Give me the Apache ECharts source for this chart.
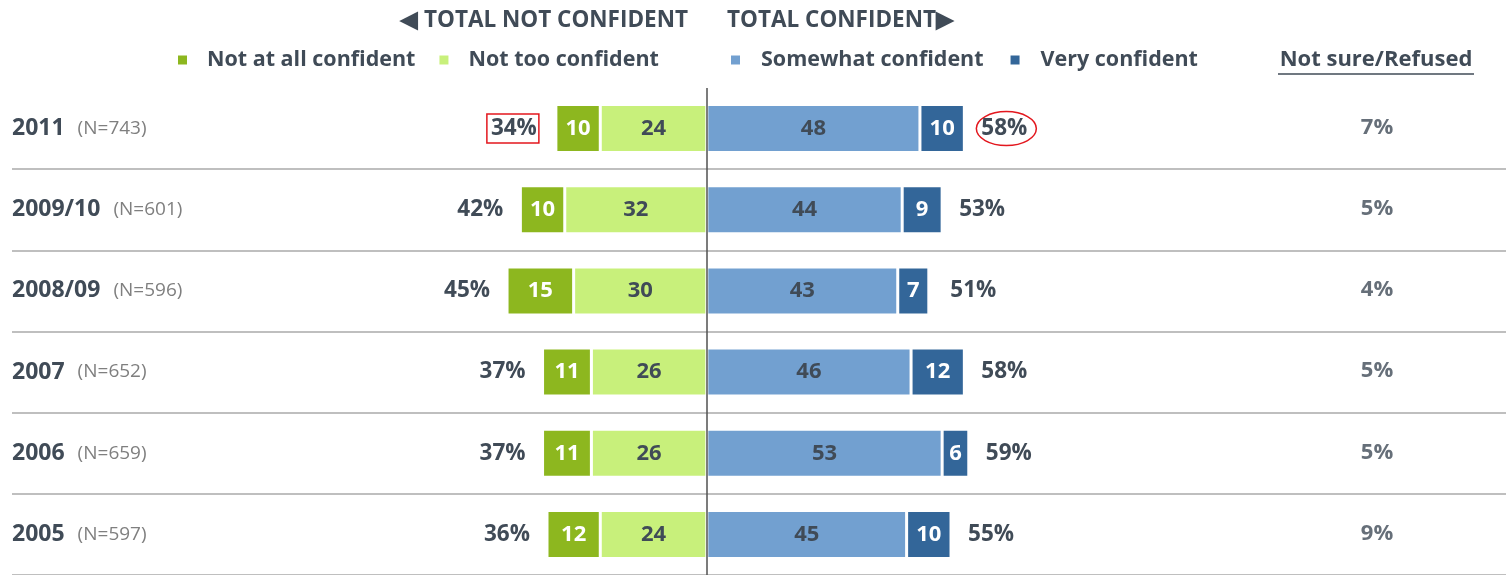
<!DOCTYPE html>
<html>
<head>
<meta charset="utf-8">
<script src="https://cdn.jsdelivr.net/npm/echarts@6/dist/echarts.min.js"></script>
<style>
  html, body { margin: 0; padding: 0; background: #ffffff; }
  #chart { width: 1506px; height: 575px; }
</style>
</head>
<body>
<div id="chart"></div>
<script>
// Survey waves and their sample sizes
const years = ['2011', '2009/10', '2008/09', '2007', '2006', '2005'];
const sampleSizes = [743, 601, 596, 652, 659, 597];

// Response shares (%)
const notAtAll = [10, 10, 15, 11, 11, 12];
const notToo = [24, 32, 30, 26, 26, 24];
const somewhat = [48, 44, 43, 46, 53, 45];
const very = [10, 9, 7, 12, 6, 10];

// Published totals (%)
const totalNotConfident = [34, 42, 45, 37, 37, 36];
const totalConfident = [58, 53, 51, 58, 59, 55];
const notSure = [7, 5, 4, 5, 5, 9];

const seriesNames = ['Not at all confident', 'Not too confident', 'Somewhat confident', 'Very confident'];
const notSureTitle = 'Not sure/Refused';

const FONT = '"Open Sans", "Noto Sans", sans-serif';
const TEXT = '#404B57';
const COLORS = {
  notAtAll: '#8DB71F',
  notToo: '#C8F07B',
  somewhat: '#72A0D0',
  very: '#336699'
};

const chart = echarts.init(document.getElementById('chart'), null, { renderer: 'canvas' });

function segment(name, values, sign, color, labelColor) {
  return {
    name: name,
    type: 'bar',
    stack: 'confidence',
    barWidth: 48,
    barGap: '-100%',
    data: values.map(v => sign * v),
    itemStyle: { color: color, borderColor: '#ffffff', borderWidth: 1.5 },
    label: {
      show: true,
      position: 'inside',
      color: labelColor,
      fontFamily: FONT,
      fontWeight: 'bold',
      fontSize: 22,
      formatter: p => String(values[p.dataIndex])
    },
    emphasis: { disabled: true },
    silent: true
  };
}

function totalBar(name, values, sign, side) {
  return {
    name: name,
    type: 'bar',
    stack: 'total',
    barWidth: 48,
    barGap: '-100%',
    z: 1,
    data: values.map((v, i) => {
      const item = { value: sign * v };
      // the current wave's "not confident" total is boxed
      if (side === 'left' && i === 0) {
        item.label = { borderColor: '#E3171E', borderWidth: 1.5, padding: [4, 2, 2, 4] };
      }
      return item;
    }),
    itemStyle: { color: 'rgba(0,0,0,0)' },
    label: {
      show: true,
      position: side,
      distance: 17,
      color: TEXT,
      fontFamily: FONT,
      fontWeight: 'bold',
      fontSize: 22.5,
      formatter: p => values[p.dataIndex] + '%'
    },
    emphasis: { disabled: true },
    silent: true
  };
}

const notTooSeries = segment(seriesNames[1], notToo, -1, COLORS.notToo, TEXT);
notTooSeries.markLine = {
  silent: true,
  symbol: ['none', 'none'],
  label: { show: false },
  lineStyle: { color: '#505050', width: 1.5, type: 'solid' },
  data: [{ xAxis: 0 }]
};

const legendText = { color: TEXT, fontFamily: FONT, fontWeight: 'bold', fontSize: 21.5 };

const option = {
  backgroundColor: '#ffffff',
  animation: false,
  textStyle: { fontFamily: FONT },
  grid: [
    { left: 12, right: 0, top: 88, bottom: -6 },
    { left: 1250, right: 2, top: 88, bottom: -6 }
  ],
  legend: [
    {
      data: [seriesNames[0], seriesNames[1]],
      left: 176, top: 49, padding: 0,
      icon: 'rect', itemWidth: 11, itemHeight: 11, itemGap: 22,
      selectedMode: false,
      textStyle: Object.assign({ padding: [0, 0, 0, 14] }, legendText)
    },
    {
      data: [seriesNames[2], seriesNames[3]],
      left: 729, top: 49, padding: 0,
      icon: 'rect', itemWidth: 11, itemHeight: 11, itemGap: 25,
      selectedMode: false,
      textStyle: Object.assign({ padding: [0, 0, 0, 15] }, legendText)
    }
  ],
  xAxis: [
    { type: 'value', gridIndex: 0, min: -156.5, max: 180, show: false },
    { type: 'category', gridIndex: 1, data: [notSureTitle], show: false }
  ],
  yAxis: [
    {
      type: 'category', gridIndex: 0, data: years, inverse: true,
      axisLine: { show: false, onZero: false },
      axisTick: { show: false },
      axisLabel: {
        interval: 0,
        align: 'left',
        margin: 0,
        formatter: (v, i) => '{y|' + v + '}{n|(N=' + sampleSizes[i] + ')}',
        rich: {
          y: { color: TEXT, fontFamily: FONT, fontWeight: 'bold', fontSize: 23 },
          n: { color: '#7F7F7F', fontFamily: FONT, fontSize: 19, padding: [0, 0, 0, 13] }
        }
      },
      splitLine: {
        show: true,
        interval: i => i > 0,
        lineStyle: { color: '#BFBFBF', width: 2 }
      }
    },
    { type: 'category', gridIndex: 1, data: years, inverse: true, show: false }
  ],
  series: [
    notTooSeries,
    segment(seriesNames[0], notAtAll, -1, COLORS.notAtAll, '#ffffff'),
    segment(seriesNames[2], somewhat, 1, COLORS.somewhat, TEXT),
    segment(seriesNames[3], very, 1, COLORS.very, '#ffffff'),
    totalBar('Total not confident', totalNotConfident, -1, 'left'),
    totalBar('Total confident', totalConfident, 1, 'right'),
    {
      name: notSureTitle,
      type: 'scatter',
      xAxisIndex: 1, yAxisIndex: 1,
      symbolSize: 1,
      itemStyle: { color: 'rgba(0,0,0,0)' },
      data: years.map(y => [notSureTitle, y]),
      label: {
        show: true,
        position: 'inside',
        offset: [0, -1],
        color: TEXT,
        fontFamily: FONT,
        fontWeight: 'bold',
        fontSize: 22,
        formatter: p => notSure[p.dataIndex] + '%'
      },
      silent: true
    }
  ],
  graphic: [
    {
      id: 'headLeft', type: 'text', x: 688, y: 21,
      style: { text: '\u25C0 TOTAL NOT CONFIDENT', fill: TEXT, font: 'bold 22.5px ' + FONT, textAlign: 'right', textVerticalAlign: 'middle' }
    },
    {
      id: 'headRight', type: 'text', x: 727, y: 21,
      style: { text: 'TOTAL CONFIDENT\u25B6', fill: TEXT, font: 'bold 22.5px ' + FONT, textAlign: 'left', textVerticalAlign: 'middle' }
    },
    {
      id: 'notSureHead', type: 'text', x: 1376, y: 60,
      style: { text: notSureTitle, fill: TEXT, font: 'bold 22px ' + FONT, textAlign: 'center', textVerticalAlign: 'middle' }
    },
    {
      id: 'notSureRule', type: 'line', shape: { x1: 1278, y1: 74, x2: 1474, y2: 74 },
      style: { stroke: TEXT, lineWidth: 1.5 }
    }
  ]
};

chart.setOption(option);

// Circle the current wave's "confident" total, placed from the axis scale
const end = chart.convertToPixel({ gridIndex: 0 }, [totalConfident[0], years[0]]);
chart.setOption({
  graphic: [
    {
      id: 'highlight',
      type: 'ellipse',
      shape: { cx: end[0] + 42, cy: end[1], rx: 30, ry: 17 },
      style: { fill: 'none', stroke: '#E3171E', lineWidth: 1.5 },
      silent: true
    }
  ]
});
</script>
</body>
</html>
